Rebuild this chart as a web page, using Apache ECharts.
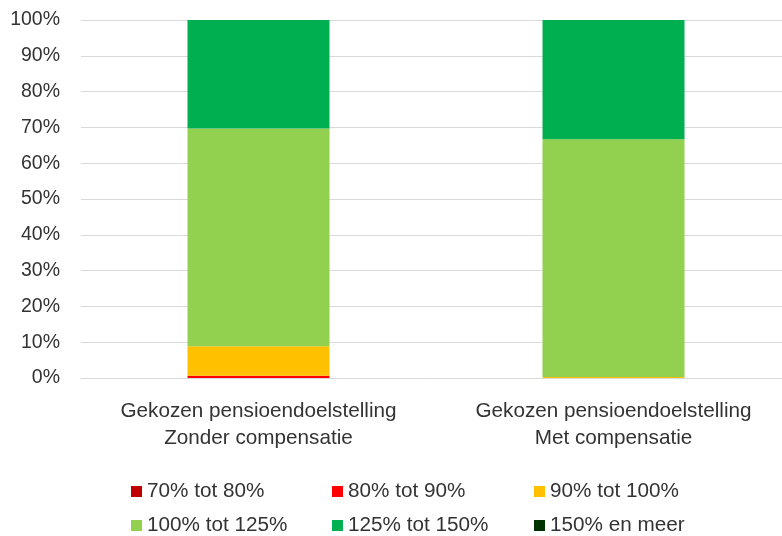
<!DOCTYPE html>
<html><head><meta charset="utf-8">
<script src="https://cdn.jsdelivr.net/npm/echarts@6/dist/echarts.min.js"></script>
<style>html,body{margin:0;padding:0;background:#fff}#c{width:782px;height:536px}</style>
</head><body><div id="c"></div>
<script>
const categories = ["Gekozen pensioendoelstelling\nZonder compensatie", "Gekozen pensioendoelstelling\nMet compensatie"];
const seriesNames = ["70% tot 80%", "80% tot 90%", "90% tot 100%", "100% tot 125%", "125% tot 150%", "150% en meer"];
const colors = ["#C00000", "#FF0000", "#FFC000", "#92D050", "#00B050", "#003300"];
const v70_80 = [0, 0];
const v80_90 = [0.6, 0];
const v90_100 = [8.3, 0.3];
const v100_125 = [60.8, 66.4];
const v125_150 = [30.3, 33.3];
const v150plus = [0, 0];
const yTicks = [0, 10, 20, 30, 40, 50, 60, 70, 80, 90, 100];

const values = [v70_80, v80_90, v90_100, v100_125, v125_150, v150plus];
const font = "Liberation Sans";
const txt = '#333333';
const chart = echarts.init(document.getElementById('c'), null, {renderer: 'canvas'});
const legendPos = [[131, 481], [332, 481], [534, 481], [131, 515], [332, 515], [534, 515]];
chart.setOption({
  animation: false,
  color: colors,
  grid: {left: 81, right: -9, top: 20, bottom: 158, containLabel: false, outerBoundsMode: 'none'},
  legend: seriesNames.map((n, i) => ({
    data: [n], left: legendPos[i][0], top: legendPos[i][1],
    icon: 'rect', itemWidth: 11, itemHeight: 11, itemGap: 6, padding: 0,
    textStyle: {fontFamily: font, fontSize: 20.7, color: txt}
  })),
  xAxis: {
    type: 'category', data: categories,
    axisLine: {show: true, lineStyle: {color: '#d9d9d9', width: 1}},
    axisTick: {show: false},
    axisLabel: {interval: 0, fontFamily: font, fontSize: 20.7, color: txt, lineHeight: 27, margin: 20}
  },
  yAxis: {
    type: 'value', min: 0, max: 100, interval: 10,
    axisLine: {show: false}, axisTick: {show: false},
    splitLine: {lineStyle: {color: '#d9d9d9', width: 1}},
    axisLabel: {fontFamily: font, fontSize: 19.5, color: txt, margin: 21,
      formatter: v => yTicks.includes(v) ? v + '%' : ''}
  },
  series: seriesNames.map((n, i) => ({
    name: n, type: 'bar', stack: 'total', data: values[i],
    barWidth: 142, itemStyle: {color: colors[i]}
  }))
});
</script></body></html>
